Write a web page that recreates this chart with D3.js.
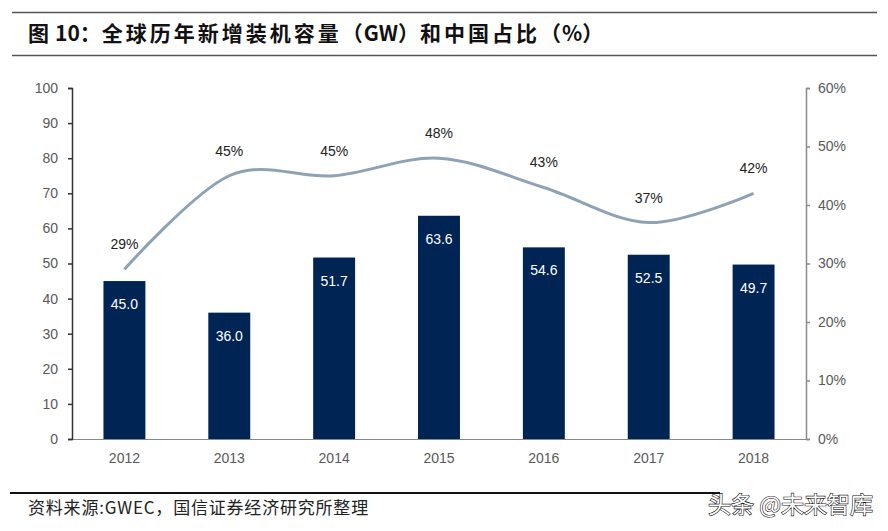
<!DOCTYPE html>
<html><head><meta charset="utf-8">
<script src="https://cdn.jsdelivr.net/npm/d3@7/dist/d3.min.js"></script>
<style>body{margin:0;background:#fff;}svg{display:block;}</style>
</head><body>
<svg id="c" width="888" height="531"></svg>
<script>
const years = ["2012","2013","2014","2015","2016","2017","2018"];
const capacity = [45.0, 36.0, 51.7, 63.6, 54.6, 52.5, 49.7];
const chinaShare = [29, 45, 45, 48, 43, 37, 42];
const leftTicks = [0,10,20,30,40,50,60,70,80,90,100];
const rightTicks = [0,10,20,30,40,50,60];

const svg = d3.select("#c");
const font = "'Liberation Sans', Arial, sans-serif";
const cjk = "'Noto Sans CJK SC', sans-serif";

// header lines & title
svg.append("line").attr("x1",12).attr("x2",877).attr("y1",12.5).attr("y2",12.5).attr("stroke","#555").attr("stroke-width",1.5);
svg.append("line").attr("x1",12).attr("x2",877).attr("y1",55.5).attr("y2",55.5).attr("stroke","#555").attr("stroke-width",1.5);
const title = svg.append("text").attr("x",28).attr("y",41).attr("font-family",cjk).attr("font-weight","bold")
  .attr("font-size",21).attr("fill","#111");
const titleParts = [["图",0,0],["10",0,6],["：",1,0],["全球历年新增装机容量",3,0],["（",1,0],["GW",0,0],["）",1,0],["和中国占比",3,0],["（",1,0],["%",0,0],["）",0,0]];
titleParts.forEach(p=>title.append("tspan").attr("letter-spacing",p[1]).attr("dx",p[2]).text(p[0]));

const L = 72, R = 806, T = 88, B = 439;
const x = d3.scaleBand().domain(years).range([L,R]).paddingInner(0.6).paddingOuter(0.3);
const yL = d3.scaleLinear().domain([0,100]).range([B,T]);
const yR = d3.scaleLinear().domain([0,60]).range([B,T]);

// bars
svg.append("g").selectAll("rect").data(years).join("rect")
  .attr("x",d=>x(d)).attr("width",x.bandwidth())
  .attr("y",(d,i)=>yL(capacity[i])).attr("height",(d,i)=>B-yL(capacity[i]))
  .attr("fill","#002454");
svg.append("g").selectAll("text").data(years).join("text")
  .attr("x",d=>x(d)+x.bandwidth()/2).attr("y",(d,i)=>yL(capacity[i])+28)
  .attr("text-anchor","middle").attr("font-family",font).attr("font-size",14).attr("fill","#fff")
  .text((d,i)=>capacity[i].toFixed(1));

// x axis baseline
svg.append("line").attr("x1",L).attr("x2",R).attr("y1",B+0.5).attr("y2",B+0.5).attr("stroke","#888").attr("stroke-width",1);
svg.append("g").selectAll("text").data(years).join("text")
  .attr("x",d=>x(d)+x.bandwidth()/2).attr("y",B+24).attr("text-anchor","middle")
  .attr("font-family",font).attr("font-size",14).attr("fill","#595959").text(d=>d);

// left axis
const gl = svg.append("g").attr("transform",`translate(${L},0)`)
  .call(d3.axisLeft(yL).tickValues(leftTicks).tickSize(4).tickPadding(10));
gl.select(".domain").attr("stroke","#333").attr("stroke-width",1.5);
gl.selectAll(".tick line").attr("stroke","#333").attr("stroke-width",1.5);
gl.selectAll("text").attr("font-family",font).attr("font-size",14).attr("fill","#595959");

// right axis
const gr = svg.append("g").attr("transform",`translate(${R},0)`)
  .call(d3.axisRight(yR).tickValues(rightTicks).tickSize(4).tickPadding(8).tickFormat(d=>d+"%"));
gr.select(".domain").attr("stroke","#8a8a8a").attr("stroke-width",1.5);
gr.selectAll(".tick line").attr("stroke","#8a8a8a").attr("stroke-width",1.5);
gr.selectAll("text").attr("font-family",font).attr("font-size",14).attr("fill","#595959");

// line
const cx = d=>x(d)+x.bandwidth()/2;
const line = d3.line().x((d,i)=>cx(years[i])).y(d=>yR(d)).curve(d3.curveCardinal.tension(0));
svg.append("path").datum(chinaShare).attr("d",line).attr("fill","none")
  .attr("stroke","#8fa2b5").attr("stroke-width",3);
svg.append("g").selectAll("text").data(chinaShare).join("text")
  .attr("x",(d,i)=>cx(years[i])).attr("y",d=>yR(d)-20).attr("text-anchor","middle")
  .attr("font-family",font).attr("font-size",14).attr("fill","#222").text(d=>d+"%");

// footer
svg.append("line").attr("x1",10).attr("x2",720).attr("y1",493).attr("y2",493).attr("stroke","#111").attr("stroke-width",2);
svg.append("text").attr("x",28).attr("y",514).attr("font-family",cjk).attr("font-size",17).attr("letter-spacing",0.8).attr("fill","#222")
  .text("资料来源:GWEC，国信证券经济研究所整理");
svg.append("text").attr("x",708).attr("y",513).attr("font-family",cjk).attr("font-size",23)
  .attr("fill","#fff").attr("stroke","#111").attr("stroke-width",1.2).attr("paint-order","stroke")
  .text("头条 @未来智库");
</script>
</body></html>
